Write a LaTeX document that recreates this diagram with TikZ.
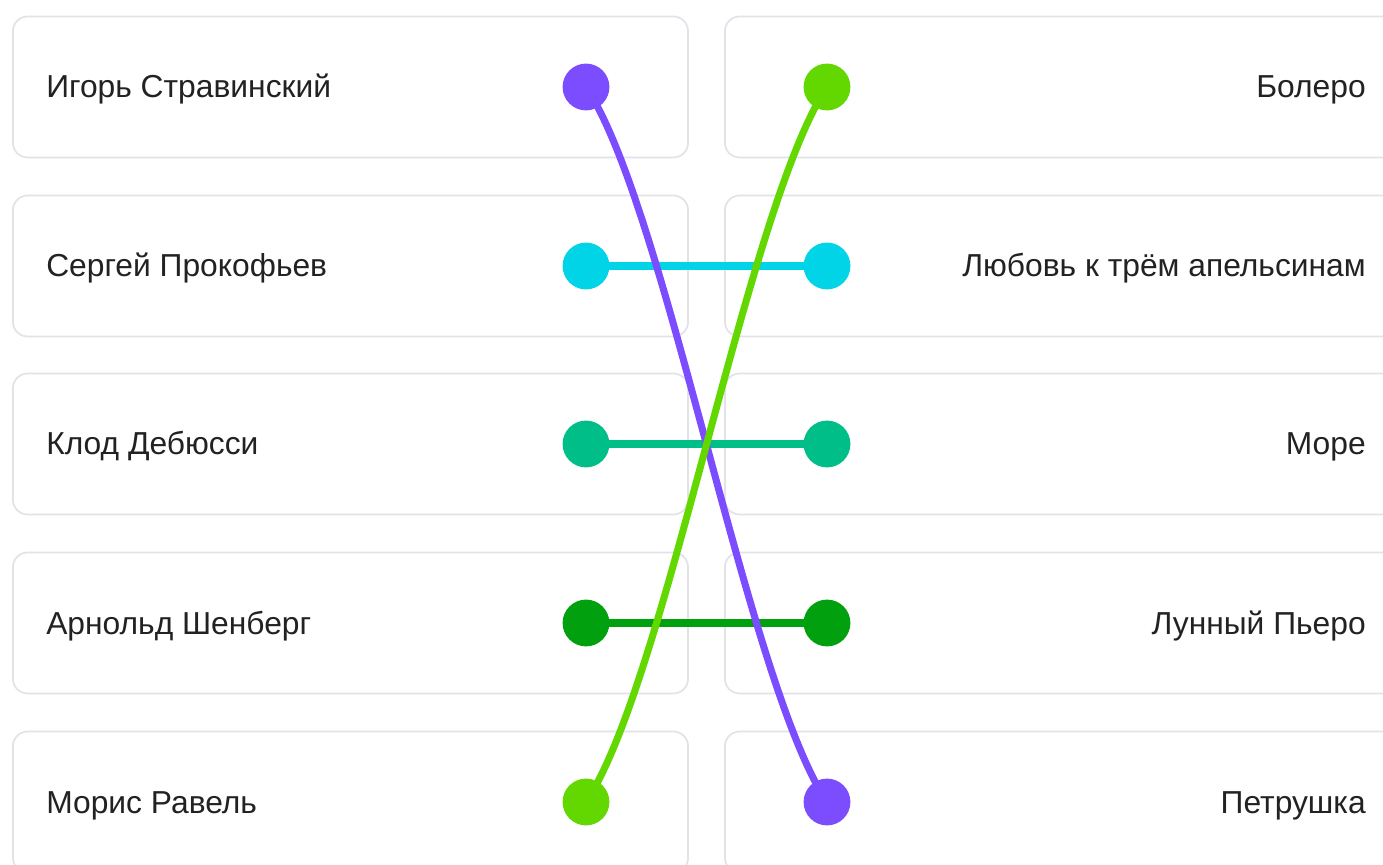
\documentclass[tikz,border=0pt]{standalone}
\usepackage{fontspec}
\setmainfont{Liberation Sans}
\usetikzlibrary{positioning}

\definecolor{boxgray}{HTML}{E2E2E8}
\definecolor{txt}{HTML}{222222}
\definecolor{purple}{HTML}{7C4DFF}
\definecolor{lime}{HTML}{62D800}
\definecolor{cyan}{HTML}{00D4E6}
\definecolor{teal}{HTML}{00BE88}
\definecolor{grn}{HTML}{00A00E}

\pgfdeclarelayer{cards}
\pgfdeclarelayer{links}
\pgfsetlayers{cards,links,main}

\tikzset{
  card/.style={rectangle, draw=boxgray, line width=1.2pt, rounded corners=10.5pt,
    minimum width=16.875cm, minimum height=3.525cm},
  dot/.style={circle, fill=#1, minimum size=1.17cm, inner sep=0pt},
  caption/.style={text=txt, font=\fontsize{22.6}{26}\selectfont, inner sep=0pt},
  link/.style={line width=5pt, draw=#1}
}

\begin{document}
\begin{tikzpicture}[x=0.025cm, y=-0.025cm]
      \useasboundingbox (0,0) rectangle (1383,865);
      \clip (0,0) rectangle (1383,865);

      % cards
      \begin{pgfonlayer}{cards}
      \fill[white] (0,0) rectangle (1383,865);
      \node[card] (cl1) at (350.5,87) {};
      \node[card] (cl2) at (350.5,266) {};
      \node[card] (cl3) at (350.5,444) {};
      \node[card] (cl4) at (350.5,623) {};
      \node[card] (cl5) at (350.5,802) {};
      \node[card] (cr1) at (1062.5,87) {};
      \node[card] (cr2) at (1062.5,266) {};
      \node[card] (cr3) at (1062.5,444) {};
      \node[card] (cr4) at (1062.5,623) {};
      \node[card] (cr5) at (1062.5,802) {};
      \end{pgfonlayer}

      % texts
      \node[caption, anchor=base west] at (46,98) {Игорь Стравинский};
      \node[caption, anchor=base west] at (46,277) {Сергей Прокофьев};
      \node[caption, anchor=base west] at (46,455) {Клод Дебюсси};
      \node[caption, anchor=base west] at (46,634) {Арнольд Шенберг};
      \node[caption, anchor=base west] at (46,813) {Морис Равель};
      \node[caption, anchor=base east] at (1366,98) {Болеро};
      \node[caption, anchor=base east] at (1366,277) {Любовь к трём апельсинам};
      \node[caption, anchor=base east] at (1366,455) {Море};
      \node[caption, anchor=base east] at (1366,634) {Лунный Пьеро};
      \node[caption, anchor=base east] at (1366,813) {Петрушка};

      % dots
      \node[dot=purple] (l1) at (586,87) {};
      \node[dot=cyan] (l2) at (586,266) {};
      \node[dot=teal] (l3) at (586,444) {};
      \node[dot=grn] (l4) at (586,623) {};
      \node[dot=lime] (l5) at (586,802) {};
      \node[dot=lime] (r1) at (827,87) {};
      \node[dot=cyan] (r2) at (827,266) {};
      \node[dot=teal] (r3) at (827,444) {};
      \node[dot=grn] (r4) at (827,623) {};
      \node[dot=purple] (r5) at (827,802) {};

      % links
      \begin{pgfonlayer}{links}
      \draw[link=cyan] (l2.center) -- (r2.center);
      \draw[link=teal] (l3.center) -- (r3.center);
      \draw[link=grn] (l4.center) -- (r4.center);
      \draw[link=purple] (l1.center) .. controls +(80,120) and +(-80,-120) .. (r5.center);
      \draw[link=lime] (l5.center) .. controls +(80,-120) and +(-80,120) .. (r1.center);
      \end{pgfonlayer}
\end{tikzpicture}
\end{document}
